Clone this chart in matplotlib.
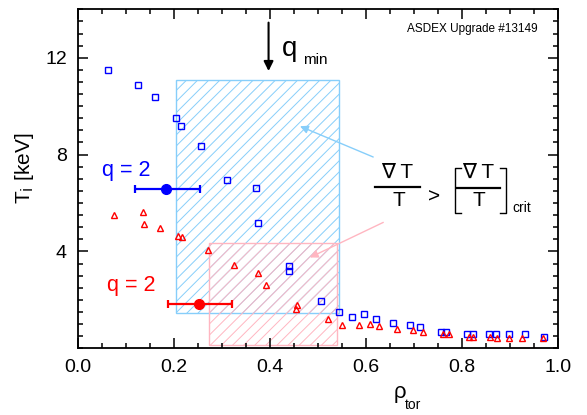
import matplotlib
matplotlib.use("Agg")
import matplotlib.pyplot as plt
from matplotlib.patches import Rectangle
from matplotlib.ticker import MultipleLocator

plt.rcParams["font.family"] = ["Liberation Sans", "DejaVu Sans"]
plt.rcParams["hatch.linewidth"] = 0.7

# blue squares: T_i profile (keV) vs rho_tor
rho_sq = [0.062, 0.126, 0.160, 0.205, 0.214, 0.257, 0.310, 0.370, 0.374, 0.440,
          0.440, 0.506, 0.544, 0.571, 0.595, 0.620, 0.656, 0.692, 0.712, 0.756,
          0.767, 0.810, 0.822, 0.856, 0.870, 0.897, 0.931, 0.971]
ti_sq = [11.50, 10.86, 10.38, 9.53, 9.20, 8.34, 6.97, 6.60, 5.18, 3.39,
         3.19, 1.96, 1.50, 1.29, 1.43, 1.21, 1.03, 0.97, 0.88, 0.66,
         0.67, 0.58, 0.58, 0.58, 0.59, 0.58, 0.58, 0.45]

# red triangles
rho_tr = [0.076, 0.135, 0.138, 0.170, 0.208, 0.217, 0.270, 0.324, 0.375, 0.391,
          0.456, 0.454, 0.520, 0.551, 0.585, 0.609, 0.628, 0.665, 0.697, 0.719,
          0.760, 0.772, 0.815, 0.823, 0.858, 0.872, 0.897, 0.926, 0.968]
ti_tr = [5.51, 5.61, 5.13, 4.95, 4.63, 4.60, 4.07, 3.45, 3.09, 2.62,
         1.80, 1.61, 1.22, 0.96, 0.96, 1.00, 0.93, 0.81, 0.75, 0.69,
         0.58, 0.59, 0.48, 0.45, 0.45, 0.44, 0.44, 0.42, 0.42]

# q = 2 positions with radial uncertainty (lo, hi)
q2_blue = (0.183, 6.57, 0.119, 0.254)
q2_red = (0.252, 1.81, 0.188, 0.321)

# critical-gradient regions: (x0, x1, y0, y1)
box_blue = (0.204, 0.544, 1.46, 11.09)
box_red = (0.273, 0.540, 0.12, 4.33)

qmin_rho = 0.397

BLUE = "#0000ff"
RED = "#ff0000"
LBLUE = "#87cefa"
LPINK = "#ffb6c1"

fig = plt.figure(figsize=(5.87, 4.15), dpi=100)
ax = fig.add_axes([78 / 587, 1 - 348.3 / 415, 480 / 587, 339 / 415])

for (x0, x1, y0, y1), c in ((box_blue, LBLUE), (box_red, LPINK)):
    ax.add_patch(Rectangle((x0, y0), x1 - x0, y1 - y0, fill=False,
                           edgecolor=c, hatch="///", lw=1.0, zorder=1))

ax.plot(rho_sq, ti_sq, ls="none", marker="s", ms=4.5, mfc="none",
        mec=BLUE, mew=1.0, zorder=3)
ax.plot(rho_tr, ti_tr, ls="none", marker="^", ms=4.5, mfc="none",
        mec=RED, mew=1.0, zorder=3)

for (x, y, lo, hi), c in ((q2_blue, BLUE), (q2_red, RED)):
    ax.errorbar([x], [y], xerr=[[x - lo], [hi - x]], fmt="o", color=c,
                ms=7, lw=1.6, capsize=3, capthick=1.6, zorder=4)

ax.text(0.05, 7.35, "q = 2", color=BLUE, fontsize=15.5, va="center")
ax.text(0.06, 2.61, "q = 2", color=RED, fontsize=15.5, va="center")

# q_min arrow
ax.annotate("", xy=(qmin_rho, 11.45), xytext=(qmin_rho, 13.45),
            arrowprops=dict(arrowstyle="-|>", color="black", lw=1.5,
                            mutation_scale=14, shrinkA=0, shrinkB=0))
ax.text(0.425, 12.35, "q", fontsize=20, va="center")
ax.text(0.468, 11.9, "min", fontsize=11, va="center")

ax.text(0.957, 13.2, "ASDEX Upgrade #13149", fontsize=8.5, ha="right",
        va="center")

# gradient criterion label
ax.text(0.665, 7.27, "\u2207 T", fontsize=15, ha="center", va="center")
ax.plot([0.619, 0.7125], [6.65, 6.65], color="black", lw=1.6, clip_on=False)
ax.text(0.669, 6.10, "T", fontsize=15, ha="center", va="center")
ax.text(0.742, 6.24, ">", fontsize=15, ha="center", va="center")
ax.plot([0.797, 0.786, 0.786, 0.797], [7.44, 7.44, 5.58, 5.58],
        color="black", lw=1.0)
ax.plot([0.880, 0.891, 0.891, 0.880], [7.44, 7.44, 5.58, 5.58],
        color="black", lw=1.0)
ax.text(0.833, 7.27, "\u2207 T", fontsize=15, ha="center", va="center")
ax.plot([0.790, 0.879], [6.61, 6.61], color="black", lw=1.6)
ax.text(0.835, 6.10, "T", fontsize=15, ha="center", va="center")
ax.text(0.905, 5.79, "crit", fontsize=10, va="center")

ax.annotate("", xy=(0.4625, 9.17), xytext=(0.615, 7.90),
            arrowprops=dict(arrowstyle="-|>", color=LBLUE, lw=1.0,
                            mutation_scale=12, shrinkA=0, shrinkB=0))
ax.annotate("", xy=(0.483, 3.75), xytext=(0.636, 5.20),
            arrowprops=dict(arrowstyle="-|>", color=LPINK, lw=1.0,
                            mutation_scale=12, shrinkA=0, shrinkB=0))

ax.set_xlim(0, 1)
ax.set_ylim(0, 14)
ax.set_xticks([0, 0.2, 0.4, 0.6, 0.8, 1.0])
ax.set_xticklabels(["0.0", "0.2", "0.4", "0.6", "0.8", "1.0"])
ax.set_yticks([4, 8, 12])
ax.xaxis.set_minor_locator(MultipleLocator(0.05))
ax.yaxis.set_minor_locator(MultipleLocator(0.5))
ax.tick_params(which="both", direction="in", top=True, right=True,
               labelsize=14, width=1.1)
ax.tick_params(which="major", length=7, pad=8)
ax.tick_params(which="minor", length=3.5)
for s in ax.spines.values():
    s.set_linewidth(1.3)

ax.set_ylabel(r"T$_{\rm i}$ [keV]", fontsize=15)
ax.yaxis.set_label_coords(-0.088, 0.53)
fig.text(400 / 587, 1 - 392 / 415, "\u03c1", fontsize=16, ha="center",
         va="center")
fig.text(405 / 587, 1 - 405 / 415, "tor", fontsize=10, ha="left",
         va="center")

fig.savefig("out.png", dpi=100)
